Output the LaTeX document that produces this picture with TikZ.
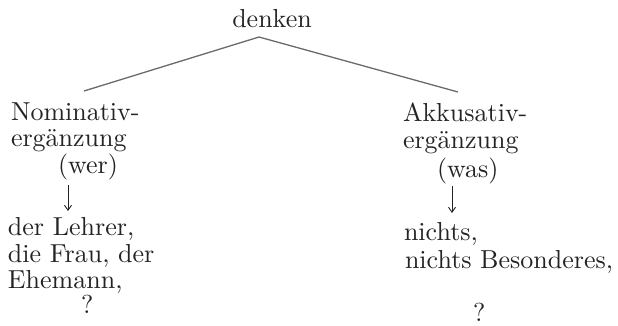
\documentclass[tikz,border=0pt]{standalone}
\usepackage{graphicx}
\usepackage{tikz}
\usetikzlibrary{arrows.meta}
\definecolor{ink}{HTML}{232323}
\definecolor{branch}{HTML}{6A6A6A}
\newcommand{\bigtxt}[1]{\scalebox{2.6}{\fontsize{10}{12}\selectfont #1}}
\begin{document}
\begin{tikzpicture}[x=1pt,y=-1pt,
  lbl/.style={inner sep=0pt,outer sep=0pt,anchor=base west,text=ink},
  branchline/.style={draw=branch,line width=1.3pt},
  downarrow/.style={draw=ink,line width=0.9pt,-{Straight Barb[length=5pt,width=7pt]}}]
\useasboundingbox (0,0) rectangle (618,325);
% root
\node[lbl,anchor=base] (root) at (272,27) {\bigtxt{denken}};
\coordinate (apex) at (259,37);
\coordinate (lend) at (84,91);
\coordinate (rend) at (458,92);
\draw[branchline] (apex) -- (lend);
\draw[branchline] (apex) -- (rend);
% left branch
\node[lbl] (nom1) at (11,120) {\bigtxt{Nominativ-}};
\node[lbl] (nom2) at (11,146) {\bigtxt{ergänzung}};
\node[lbl] (wer) at (58,173) {\bigtxt{(wer)}};
\coordinate (la1) at (68,185);
\coordinate (la2) at (68,211);
\draw[downarrow] (la1) -- (la2);
\node[lbl] (l1) at (8,235) {\bigtxt{der Lehrer,}};
\node[lbl] (l2) at (8,262) {\bigtxt{die Frau, der}};
\node[lbl] (l3) at (8,288) {\bigtxt{Ehemann,}};
\node[lbl] (lq) at (81,313) {\bigtxt{?}};
% right branch
\node[lbl] (akk1) at (403,121) {\bigtxt{Akkusativ-}};
\node[lbl] (akk2) at (403,148) {\bigtxt{ergänzung}};
\node[lbl] (was) at (437,177) {\bigtxt{(was)}};
\coordinate (ra1) at (452,186);
\coordinate (ra2) at (452,213);
\draw[downarrow] (ra1) -- (ra2);
\node[lbl] (r1) at (404,240) {\bigtxt{nichts,}};
\node[lbl] (r2) at (405,268) {\bigtxt{nichts Besonderes,}};
\node[lbl] (rq) at (473,321) {\bigtxt{?}};
\end{tikzpicture}
\end{document}
